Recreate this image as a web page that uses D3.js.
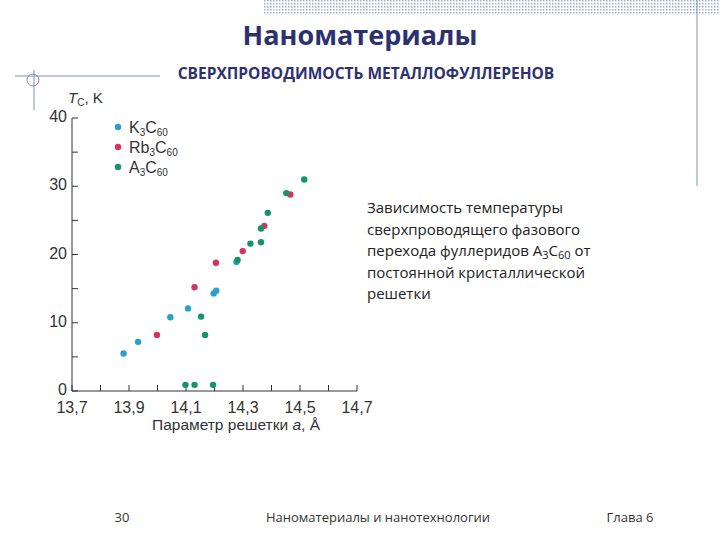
<!DOCTYPE html>
<html><head><meta charset="utf-8">
<script src="https://cdn.jsdelivr.net/npm/d3@7"></script>
<style>body{margin:0;background:#fff}</style>
</head><body>
<script>
// series values: [lattice parameter a (Å), Tc (K)]
var k3c60 = [[13.881,5.5],[13.932,7.2],[14.045,10.8],[14.107,12.1],[14.197,14.3],[14.206,14.7],[14.277,18.9]];
var rb3c60 = [[13.998,8.2],[14.130,15.2],[14.205,18.8],[14.299,20.5],[14.375,24.2],[14.466,28.8]];
var a3c60 = [[14.153,10.9],[14.167,8.2],[14.098,0.9],[14.130,0.9],[14.195,0.9],[14.281,19.2],
             [14.326,21.6],[14.363,21.8],[14.363,23.8],[14.387,26.1],[14.452,29.0],[14.515,31.0]];
var xTickLabels = [13.7,13.9,14.1,14.3,14.5,14.7];
var yTickLabels = [0,10,20,30,40];
// each line: alternating normal / subscript pieces
var descLines = [["Зависимость температуры"],["сверхпроводящего фазового"],
  ["перехода фуллеридов A","3","C","60"," от"],["постоянной кристаллической"],["решетки"]];

var svg = d3.select("body").append("svg").attr("width",720).attr("height",540)
  .style("font-family","Arial, 'Liberation Sans', sans-serif");

// slide decoration
var pat = svg.append("defs").append("pattern").attr("id","dots")
  .attr("width",3).attr("height",3).attr("patternUnits","userSpaceOnUse");
pat.append("rect").attr("width",1.5).attr("height",1.5).attr("fill","#9db0d8");
svg.append("rect").attr("x",264).attr("y",0).attr("width",456).attr("height",14).attr("fill","url(#dots)");
svg.append("line").attr("x1",697).attr("x2",697).attr("y1",0).attr("y2",186).attr("stroke","#7f8fc4");
svg.append("line").attr("x1",15).attr("x2",160).attr("y1",76).attr("y2",76).attr("stroke","#7f8fc4");
svg.append("line").attr("x1",34).attr("x2",34).attr("y1",70).attr("y2",110).attr("stroke","#7f8fc4");
svg.append("circle").attr("cx",33).attr("cy",80).attr("r",6).attr("fill","none").attr("stroke","#7f8fc4");

svg.append("text").attr("x",360).attr("y",45).attr("text-anchor","middle")
  .attr("font-size",27).attr("font-weight","bold").attr("fill","#2e3170")
  .style("font-family","'Open Sans', sans-serif").text("Наноматериалы");
svg.append("text").attr("x",366).attr("y",79).attr("text-anchor","middle")
  .attr("font-size",15.5).attr("font-weight","bold").attr("fill","#2e3170")
  .style("font-family","'Open Sans', sans-serif").text("СВЕРХПРОВОДИМОСТЬ МЕТАЛЛОФУЛЛЕРЕНОВ");

// chart
var x = d3.scaleLinear().domain([13.7,14.7]).range([72,357]);
var y = d3.scaleLinear().domain([0,40]).range([391,118]);
var g = svg.append("g").attr("fill","#333");

g.append("line").attr("x1",x(13.7)).attr("x2",x(13.7)).attr("y1",y(40)).attr("y2",y(0)).attr("stroke","#333");
g.append("line").attr("x1",x(13.7)).attr("x2",x(14.7)).attr("y1",y(0)).attr("y2",y(0)).attr("stroke","#333");
g.selectAll(".xt").data(d3.range(0,11)).enter().append("line")
  .attr("x1",function(i){return x(13.7+i*0.1);}).attr("x2",function(i){return x(13.7+i*0.1);})
  .attr("y1",y(0)).attr("y2",y(0)-6).attr("stroke","#333");
g.selectAll(".yt").data(d3.range(0,9)).enter().append("line")
  .attr("x1",x(13.7)).attr("x2",x(13.7)+6)
  .attr("y1",function(i){return y(i*5);}).attr("y2",function(i){return y(i*5);}).attr("stroke","#333");
g.selectAll(".xl").data(xTickLabels).enter().append("text")
  .attr("x",function(d){return x(d);}).attr("y",413).attr("text-anchor","middle").attr("font-size",16)
  .text(function(d){return String(d).replace(".",",");});
g.selectAll(".yl").data(yTickLabels).enter().append("text")
  .attr("x",67).attr("y",function(d){return y(d)+4;}).attr("text-anchor","end").attr("font-size",16)
  .text(function(d){return d;});
g.append("text").attr("x",68).attr("y",103).attr("font-size",15)
  .html('<tspan font-style="italic">T</tspan><tspan font-size="10" dy="3">C</tspan><tspan dy="-3">, K</tspan>');
g.append("text").attr("x",236).attr("y",430).attr("text-anchor","middle").attr("font-size",15.5)
  .html('Параметр решетки <tspan font-style="italic">a</tspan>, Å');

var series = [
  {name:"K", data:k3c60, color:"#2b9fc9"},
  {name:"Rb", data:rb3c60, color:"#d6335e"},
  {name:"A", data:a3c60, color:"#16936b"}
];
series.forEach(function(s, i){
  svg.selectAll(".p"+i).data(s.data).enter().append("circle")
    .attr("cx",function(d){return x(d[0]);}).attr("cy",function(d){return y(d[1]);})
    .attr("r",3.2).attr("fill",s.color);
  svg.append("circle").attr("cx",118).attr("cy",127+i*20).attr("r",3.2).attr("fill",s.color);
  svg.append("text").attr("x",129).attr("y",133+i*20).attr("font-size",16).attr("fill","#333")
    .html(s.name+'<tspan font-size="10" dy="3">3</tspan><tspan dy="-3">C</tspan><tspan font-size="10" dy="3">60</tspan>');
});

// description
var desc = svg.append("text").attr("font-size",15).attr("fill","#222")
  .style("font-family","'Open Sans', sans-serif");
descLines.forEach(function(parts, i){
  var line = desc.append("tspan").attr("x",367).attr("y",213+i*21.5);
  parts.forEach(function(p, j){
    var t = line.append("tspan").text(p);
    if (j % 2 == 1) t.attr("font-size",11).attr("dy",3);
    else if (j > 0) t.attr("dy",-3);
  });
});

// footer
var foot = [[122,"30"],[378,"Наноматериалы и нанотехнологии"],[630,"Глава 6"]];
svg.selectAll(".f").data(foot).enter().append("text")
  .attr("x",function(d){return d[0];}).attr("y",522).attr("text-anchor","middle")
  .attr("font-size",13).attr("fill","#333").style("font-family","'Open Sans', sans-serif")
  .text(function(d){return d[1];});
</script>
</body></html>
